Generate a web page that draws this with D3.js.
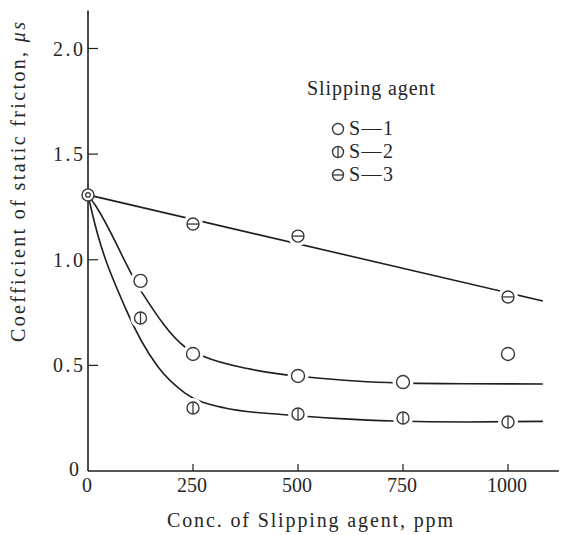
<!DOCTYPE html>
<html><head><meta charset="utf-8">
<script src="https://cdn.jsdelivr.net/npm/d3@7"></script>
<style>body{margin:0;background:#fff}svg{display:block}text{font-family:"Liberation Serif","DejaVu Serif",serif;fill:#262626}</style>
</head><body><svg id="c" width="566" height="535"></svg>
<script>
// Data
const startPoint = {x: 0, y: 1.307};
const s1Points = [[125, 0.90], [250, 0.554], [500, 0.45], [750, 0.421], [1000, 0.554]];
const s2Points = [[125, 0.724], [250, 0.298], [500, 0.27], [750, 0.251], [1000, 0.232]];
const s3Points = [[250, 1.169], [500, 1.112], [1000, 0.824]];
// Fitted curves as drawn in the picture
const s1Curve = [[0, 1.307], [17, 1.259], [129, 0.843], [231, 0.587], [279, 0.54], [380, 0.485], [476, 0.454], [521, 0.445], [736, 0.417], [900, 0.413], [1083, 0.412]];
const s2Curve = [[0, 1.307], [10, 1.22], [88, 0.776], [167, 0.492], [231, 0.369], [326, 0.298], [476, 0.265], [600, 0.248], [726, 0.237], [900, 0.232], [1083, 0.235]];
const s3Line = [[0, 1.307], [1083, 0.805]];
const xTicks = [250, 500, 750, 1000];
const xTickLabels = ["0", "250", "500", "750", "1000"];
const yTicks = [0.5, 1.0, 1.5, 2.0];
const yTickLabels = ["0.5", "1.0", "1.5", "2.0"];
const legendTitle = "Slipping agent";
const legendItems = [{name: "S\u20141", type: "o"}, {name: "S\u20142", type: "phi"}, {name: "S\u20143", type: "theta"}];
const xTitle = "Conc. of Slipping agent, ppm";
const yTitle = "Coefficient of static fricton, ";

const svg = d3.select("#c");
const x = d3.scaleLinear().domain([0, 1000]).range([88, 508]);
const y = d3.scaleLinear().domain([0, 2.0]).range([471, 48.5]);
const ink = "#1e1e1e";
const xMax = 1121, yMax = 2.18;

// axes lines
svg.append("line").attr("x1", x(0)).attr("x2", x(0)).attr("y1", y(0)).attr("y2", y(yMax)).attr("stroke", ink).attr("stroke-width", 1.6);
svg.append("line").attr("x1", x(0)).attr("x2", x(xMax)).attr("y1", y(0)).attr("y2", y(0)).attr("stroke", ink).attr("stroke-width", 1.4);

// y ticks (inside)
yTicks.forEach((t, i) => {
  svg.append("line").attr("x1", x(0)).attr("x2", x(0) + 10).attr("y1", y(t)).attr("y2", y(t)).attr("stroke", ink).attr("stroke-width", 1.2);
  svg.append("text").attr("x", 83).attr("y", y(t) + 7).attr("text-anchor", "end").attr("font-size", 20)
    .attr("textLength", 30).attr("lengthAdjust", "spacing").text(yTickLabels[i]);
});
svg.append("text").attr("x", 74).attr("y", 476).attr("text-anchor", "middle").attr("font-size", 20).text("0");

// x ticks (inside)
xTicks.forEach(t => {
  svg.append("line").attr("x1", x(t)).attr("x2", x(t)).attr("y1", y(0)).attr("y2", y(0) - 7).attr("stroke", ink).attr("stroke-width", 1.2);
});
[0].concat(xTicks).forEach((t, i) => {
  svg.append("text").attr("x", x(t) - 1).attr("y", 492).attr("text-anchor", "middle").attr("font-size", 20).text(xTickLabels[i]);
});

// titles
svg.append("text").attr("x", 167).attr("y", 527).attr("font-size", 20)
  .attr("textLength", 286).attr("lengthAdjust", "spacing").text(xTitle);
const yt = svg.append("text").attr("transform", "translate(25,342) rotate(-90)").attr("font-size", 20)
  .attr("textLength", 320).attr("lengthAdjust", "spacing");
yt.append("tspan").text(yTitle);
yt.append("tspan").attr("font-style", "italic").text("\u03bcs");

// lines
const line = d3.line().x(d => x(d[0])).y(d => y(d[1]));
const curve = d3.line().x(d => x(d[0])).y(d => y(d[1])).curve(d3.curveMonotoneX);
svg.append("path").attr("d", curve(s1Curve)).attr("fill", "none").attr("stroke", ink).attr("stroke-width", 1.6);
svg.append("path").attr("d", curve(s2Curve)).attr("fill", "none").attr("stroke", ink).attr("stroke-width", 1.6);
svg.append("path").attr("d", line(s3Line)).attr("fill", "none").attr("stroke", ink).attr("stroke-width", 1.6);

function marker(g, cx, cy, type, r, halo) {
  if (halo) g.append("circle").attr("cx", cx).attr("cy", cy).attr("r", r + 4).attr("fill", "#fff");
  g.append("circle").attr("cx", cx).attr("cy", cy).attr("r", r).attr("fill", "#fff").attr("stroke", "#3a3a3a").attr("stroke-width", 1.4);
  if (type === "phi") g.append("line").attr("x1", cx).attr("x2", cx).attr("y1", cy - r).attr("y2", cy + r).attr("stroke", "#3a3a3a").attr("stroke-width", 1.3);
  if (type === "theta") g.append("line").attr("x1", cx - r).attr("x2", cx + r).attr("y1", cy).attr("y2", cy).attr("stroke", "#3a3a3a").attr("stroke-width", 1.3);
  if (type === "start") g.append("circle").attr("cx", cx).attr("cy", cy).attr("r", 2.3).attr("fill", "none").attr("stroke", "#3a3a3a").attr("stroke-width", 1.3);
}
const mg = svg.append("g");
s1Points.forEach(d => marker(mg, x(d[0]), y(d[1]), "o", 6.5, true));
s2Points.forEach(d => marker(mg, x(d[0]), y(d[1]), "phi", 6, true));
s3Points.forEach(d => marker(mg, x(d[0]), y(d[1]), "theta", 6, true));
marker(mg, x(startPoint.x), y(startPoint.y), "start", 6, false);

// legend
svg.append("text").attr("x", 307).attr("y", 95).attr("font-size", 20)
  .attr("textLength", 128).attr("lengthAdjust", "spacing").text(legendTitle);
legendItems.forEach((it, i) => {
  const base = [135, 158, 181][i];
  marker(svg, 338, base - 6, it.type, 5.5, false);
  svg.append("text").attr("x", 349).attr("y", base).attr("font-size", 20)
    .attr("letter-spacing", 1.5).text(it.name);
});
</script></body></html>
